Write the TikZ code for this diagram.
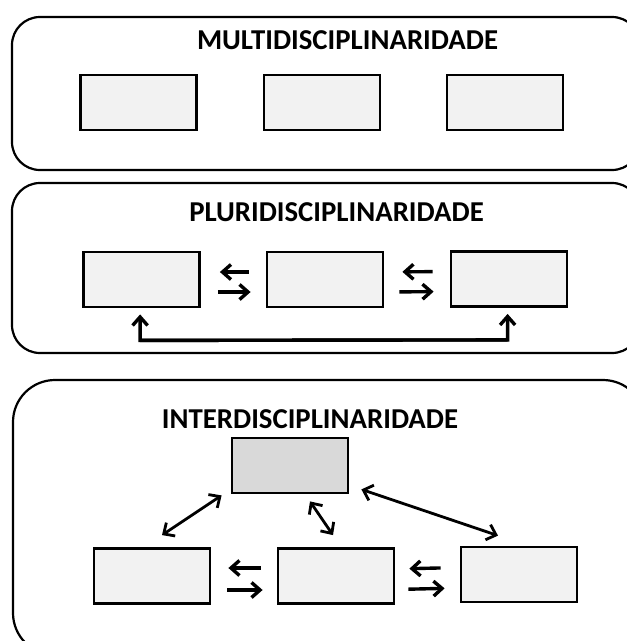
\documentclass[tikz,border=0pt]{standalone}
\usepackage{fontspec}
\setmainfont{Carlito}
\usetikzlibrary{arrows.meta}

\definecolor{boxfill}{HTML}{F2F2F2}
\definecolor{corefill}{HTML}{D9D9D9}

\tikzset{
  panel/.style={draw=black, line width=2.2pt},
  title/.style={font=\bfseries\fontsize{28.8}{30}\selectfont, inner sep=0pt, anchor=center},
  discbox/.style={draw=black, line width=2.8pt, fill=boxfill, minimum width=116pt, minimum height=55pt, inner sep=0pt},
  corebox/.style={discbox, fill=corefill},
  tipa/.tip={Straight Barb[length=8.5pt,width=15pt,line width=3.4pt]},
  tipb/.tip={Straight Barb[length=8.5pt,width=16pt,line width=2.8pt]},
  arr/.style={line width=3.4pt, -tipa},
  dbl/.style={line width=2.8pt, tipb-tipb}
}

\begin{document}
\begin{tikzpicture}[x=1pt, y=-1pt]
  \useasboundingbox (0,0) rectangle (627,641);
  \clip (0,0) rectangle (627,641);

  % frames of the three levels
  \draw[panel, rounded corners=28pt] (12,17) rectangle (640,170);
  \draw[panel, rounded corners=28pt] (12,183) rectangle (640,353);
  \draw[panel, rounded corners=42pt] (13,380) rectangle (645,655);

  % multidisciplinarity: isolated disciplines
  \node[title] (t1) at (347.5,40) {MULTIDISCIPLINARIDADE};
  \node[discbox] (m1) at (138.5,102.5) {};
  \node[discbox] (m2) at (322,102.5) {};
  \node[discbox] (m3) at (505,102.5) {};

  % pluridisciplinarity: neighbouring exchanges
  \node[title] (t2) at (336.5,212.5) {PLURIDISCIPLINARIDADE};
  \node[discbox] (p1) at (141.5,279.5) {};
  \node[discbox] (p2) at (325,279.5) {};
  \node[discbox] (p3) at (509,279) {};

  \draw[arr, shorten <=17pt, shorten >=19pt] ([yshift=7.5pt]p2.west) -- ([yshift=7.5pt]p1.east);
  \draw[arr, shorten <=17pt, shorten >=15pt] ([yshift=-12.5pt]p1.east) -- ([yshift=-12.5pt]p2.west);
  \draw[arr, shorten <=17pt, shorten >=18pt] ([yshift=7.5pt]p3.west) -- ([yshift=7.5pt]p2.east);
  \draw[arr, shorten <=15pt, shorten >=16pt] ([yshift=-12.5pt]p2.east) -- ([yshift=-12.5pt]p3.west);

  \coordinate (la) at ([shift={(58,32)}]p1.south west);
  \coordinate (lb) at ([shift={(58,32)}]p3.south west);
  \draw[arr, line join=miter] (la) -- (lb) -- ([shift={(58,6)}]p3.south west);
  \draw[arr, line join=miter] (lb) -- (la) -- ([shift={(58,6)}]p1.south west);

  % interdisciplinarity: exchanges through a common core
  \node[title] (t3) at (310,419) {INTERDISCIPLINARIDADE};
  \node[corebox] (c) at (290,465.5) {};
  \node[discbox] (i1) at (152,576) {};
  \node[discbox] (i2) at (336,576) {};
  \node[discbox] (i3) at (519,574.5) {};

  \draw[arr, shorten <=16pt, shorten >=17pt] ([yshift=8pt]i2.west) -- ([yshift=8pt]i1.east);
  \draw[arr, shorten <=16pt, shorten >=14pt] ([yshift=-14pt]i1.east) -- ([yshift=-14pt]i2.west);
  \draw[arr, shorten <=19pt, shorten >=14pt] ([yshift=7pt]i3.west) -- ([yshift=7pt]i2.east);
  \draw[arr, shorten <=13pt, shorten >=15pt] ([yshift=-13.5pt]i2.east) -- ([yshift=-13.5pt]i3.west);

  \draw[dbl] ([shift={(-9,1)}]c.south west) -- ([shift={(10,-12)}]i1.north);
  \draw[dbl] ([shift={(20,7)}]c.south) -- ([shift={(-3,-12)}]i2.north);
  \draw[dbl] ([shift={(12,-5)}]c.south east) -- ([shift={(-21,-10)}]i3.north);
\end{tikzpicture}
\end{document}
